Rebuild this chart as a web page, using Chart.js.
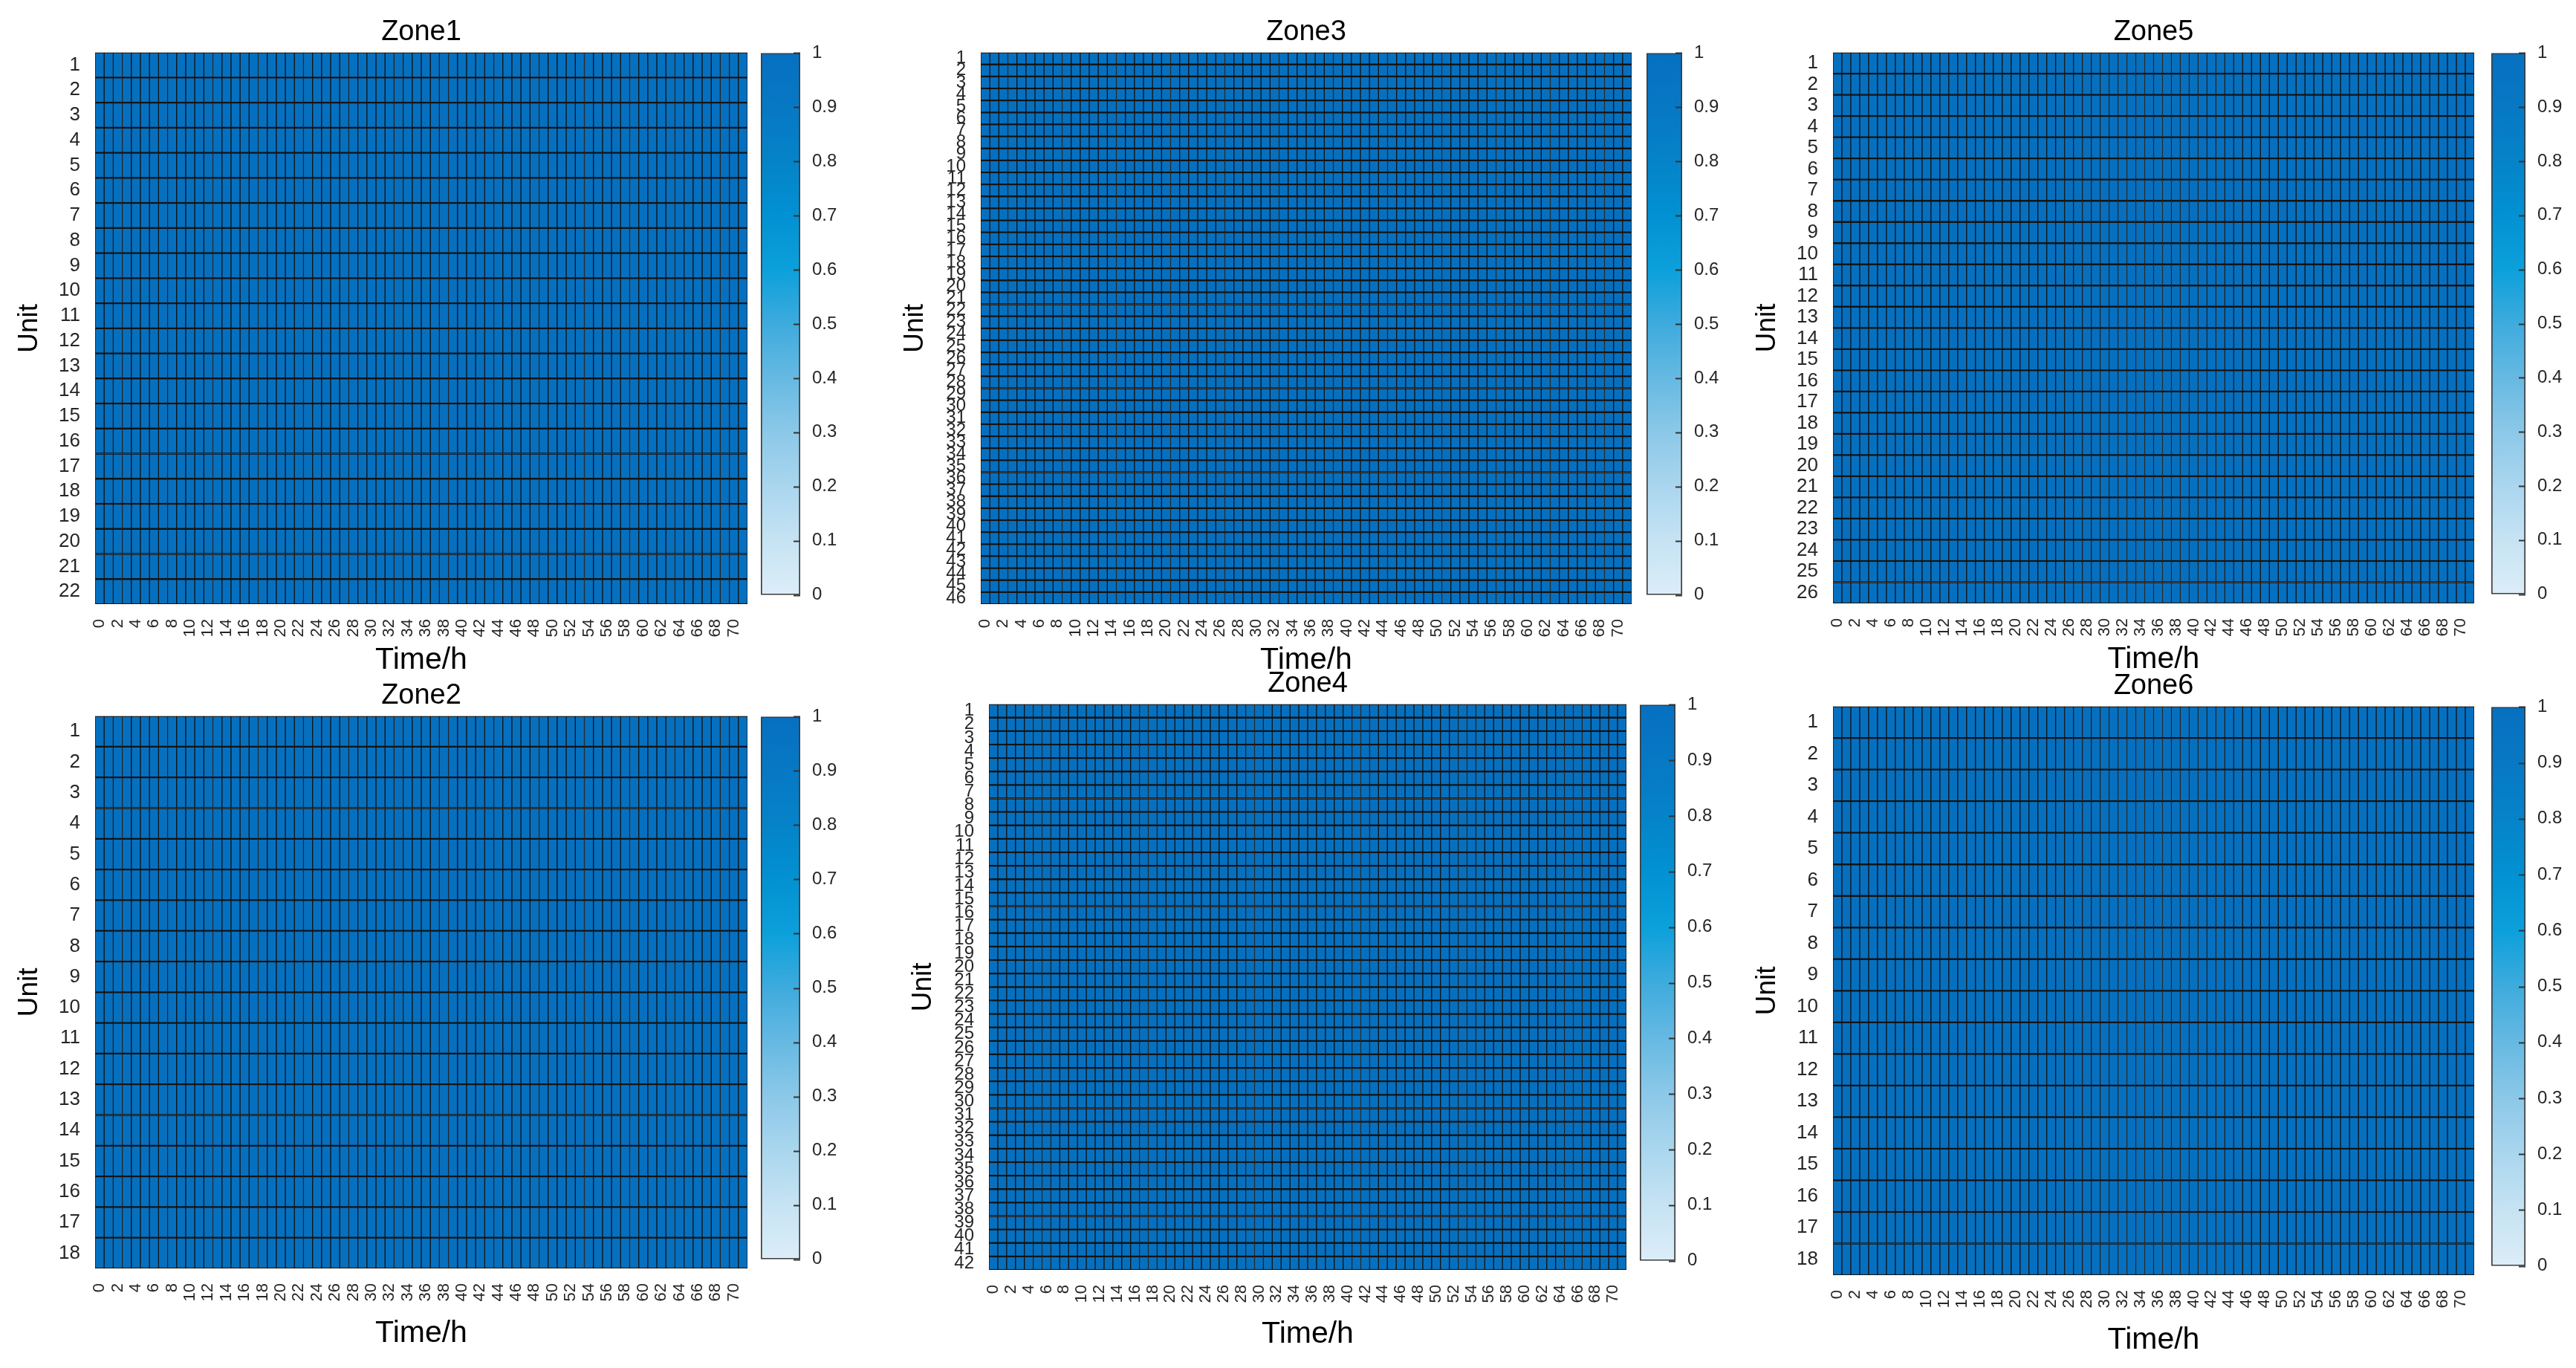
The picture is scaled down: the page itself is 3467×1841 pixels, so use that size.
<!DOCTYPE html>
<html>
<head>
<meta charset="utf-8">
<title>Unit status by zone</title>
<script src="https://cdn.jsdelivr.net/npm/chart.js@4.4.1/dist/chart.umd.min.js"></script>
<style>
  html, body { margin: 0; padding: 0; background: #fff; }
  body { width: 3467px; height: 1841px; position: relative; overflow: hidden; }
  canvas { position: absolute; }
</style>
</head>
<body>
<script>
// one column per hour
const hours = [0, 1, 2, 3, 4, 5, 6, 7, 8, 9, 10, 11, 12, 13, 14, 15, 16, 17, 18, 19, 20, 21, 22, 23,
  24, 25, 26, 27, 28, 29, 30, 31, 32, 33, 34, 35, 36, 37, 38, 39, 40, 41, 42, 43, 44, 45, 46, 47,
  48, 49, 50, 51, 52, 53, 54, 55, 56, 57, 58, 59, 60, 61, 62, 63, 64, 65, 66, 67, 68, 69, 70, 71];
const hourTickLabels = ['0', '2', '4', '6', '8', '10', '12', '14', '16', '18', '20', '22', '24', '26',
  '28', '30', '32', '34', '36', '38', '40', '42', '44', '46', '48', '50', '52', '54', '56', '58', '60',
  '62', '64', '66', '68', '70'];

const zoneNames = ['Zone1', 'Zone2', 'Zone3', 'Zone4', 'Zone5', 'Zone6'];
const unitCounts = [22, 18, 46, 42, 26, 18];

// on/off status of a unit in each hour -- every unit of every zone is on (1) all 72 h
const unitStatus = [1, 1, 1, 1, 1, 1, 1, 1, 1, 1, 1, 1, 1, 1, 1, 1, 1, 1, 1, 1, 1, 1, 1, 1,
  1, 1, 1, 1, 1, 1, 1, 1, 1, 1, 1, 1, 1, 1, 1, 1, 1, 1, 1, 1, 1, 1, 1, 1,
  1, 1, 1, 1, 1, 1, 1, 1, 1, 1, 1, 1, 1, 1, 1, 1, 1, 1, 1, 1, 1, 1, 1, 1];

const colorbarTicks = [0, 0.1, 0.2, 0.3, 0.4, 0.5, 0.6, 0.7, 0.8, 0.9, 1];

// colormap (light blue -> dark blue)
const cmapStops = [
  [0.0, [220, 237, 248]], [0.1, [198, 227, 243]], [0.2, [170, 214, 238]],
  [0.3, [140, 200, 232]], [0.4, [102, 185, 226]], [0.5, [62, 171, 221]],
  [0.6, [12, 160, 219]], [0.7, [2, 145, 210]], [0.8, [5, 131, 201]],
  [0.9, [7, 120, 196]], [1.0, [6, 112, 192]]
];

// pixel boxes: heatmap [left, top, right, bottom], colorbar [left, right], x axis band height
const boxes = {
  Zone1: { plot: [128, 71, 1006, 813], bar: [1024, 1077], xh: 100 },
  Zone3: { plot: [1320, 71, 2196, 813], bar: [2216, 2264], xh: 100 },
  Zone5: { plot: [2467, 71, 3330, 812], bar: [3353, 3399], xh: 100 },
  Zone2: { plot: [128, 964, 1006, 1707], bar: [1024, 1077], xh: 112 },
  Zone4: { plot: [1331, 948, 2189, 1709], bar: [2207, 2255], xh: 111 },
  Zone6: { plot: [2467, 951, 3330, 1716], bar: [3353, 3399], xh: 112 }
};

const FONT = '"Liberation Sans", Arial, Helvetica, sans-serif';
const TICK_COLOR = '#262626';

function colormap(v) {
  for (let i = 1; i < cmapStops.length; i++) {
    const [v1, c1] = cmapStops[i];
    const [v0, c0] = cmapStops[i - 1];
    if (v <= v1) {
      const f = (v - v0) / (v1 - v0);
      const c = c0.map((x, k) => Math.round(x + (c1[k] - x) * f));
      return 'rgb(' + c.join(',') + ')';
    }
  }
  return 'rgb(' + cmapStops[cmapStops.length - 1][1].join(',') + ')';
}

// move canvas so the chart area lands on the wanted box
function pinChart(chart, canvas, left, top) {
  const a = chart.chartArea;
  canvas.style.left = (left - a.left) + 'px';
  canvas.style.top = (top - a.top) + 'px';
}

function makeHeatmap(name, count) {
  const [l, t, r, b] = boxes[name].plot;
  const units = [];
  for (let u = 1; u <= count; u++) units.push(u);

  // padR leaves room for the rotated hour labels so the plot keeps its width
  const yAxisW = 110, xAxisH = boxes[name].xh, padR = 50;
  const titleH = 38 * 1.2 + 4;
  const canvas = document.createElement('canvas');
  canvas.width = yAxisW + (r - l) + padR;
  canvas.height = Math.ceil(titleH + (b - t) + xAxisH);
  document.body.appendChild(canvas);

  const chart = new Chart(canvas, {
    type: 'bar',
    data: {
      labels: hours.map(String),
      datasets: units.map(u => ({
        label: 'Unit ' + u,
        data: unitStatus.map(() => [u - 0.5, u + 0.5]),
        backgroundColor: unitStatus.map(colormap)
      }))
    },
    options: {
      responsive: false,
      animation: false,
      events: [],
      layout: { padding: { right: padR } },
      datasets: {
        bar: {
          grouped: false,
          barPercentage: 1,
          categoryPercentage: 1,
          borderWidth: { top: 1.5, bottom: 1.5, left: 1, right: 1 },
          borderColor: '#141414',
          borderSkipped: false
        }
      },
      plugins: {
        legend: { display: false },
        tooltip: { enabled: false },
        title: {
          display: true,
          text: name,
          fullSize: false,
          color: '#000',
          font: { family: FONT, size: 38, weight: 'normal' },
          padding: { top: 0, bottom: 4 }
        }
      },
      scales: {
        x: {
          type: 'category',
          grid: { display: false },
          border: { display: false },
          ticks: {
            autoSkip: false,
            minRotation: 90,
            maxRotation: 90,
            padding: 12,
            color: TICK_COLOR,
            font: { family: FONT, size: 22 },
            callback: (v, i) => hourTickLabels.includes(String(hours[i])) ? String(hours[i]) : ''
          },
          title: {
            display: true,
            text: 'Time/h',
            color: '#000',
            font: { family: FONT, size: 41 },
            padding: 0
          },
          afterFit: s => { s.height = xAxisH; }
        },
        y: {
          type: 'linear',
          reverse: true,
          min: 0.5,
          max: count + 0.5,
          grid: { display: false },
          border: { display: false },
          afterBuildTicks: s => { s.ticks = units.map(v => ({ value: v })); },
          ticks: {
            autoSkip: false,
            padding: 12,
            color: TICK_COLOR,
            font: { family: FONT, size: count > 30 ? 24 : 26 },
            callback: v => String(v)
          },
          title: {
            display: true,
            text: 'Unit',
            color: '#000',
            font: { family: FONT, size: 37 },
            padding: 0
          },
          afterFit: s => { s.width = yAxisW; }
        }
      }
    }
  });
  pinChart(chart, canvas, l, t);
}

// tick marks drawn inside the colorbar, on its right edge
const insideTicks = {
  id: 'insideTicks',
  afterDatasetsDraw(chart) {
    const { ctx, chartArea, scales } = chart;
    ctx.save();
    ctx.strokeStyle = '#333';
    ctx.lineWidth = 2;
    scales.y.ticks.forEach(tk => {
      const y = Math.round(scales.y.getPixelForValue(tk.value)) + 0.5;
      ctx.beginPath();
      ctx.moveTo(chartArea.right - 9, y);
      ctx.lineTo(chartArea.right, y);
      ctx.stroke();
    });
    ctx.restore();
  }
};

function makeColorbar(name) {
  const [, t, , b] = boxes[name].plot;
  const [cl, cr] = boxes[name].bar;
  const axisW = 60, pad = 16;
  const canvas = document.createElement('canvas');
  canvas.width = (cr - cl) + axisW;
  canvas.height = (b - t) + 2 * pad;
  document.body.appendChild(canvas);

  const chart = new Chart(canvas, {
    type: 'bar',
    data: {
      labels: ['colorbar'],
      datasets: [{
        data: [[0, 1]],
        backgroundColor: ctx => {
          const area = ctx.chart.chartArea;
          if (!area) return colormap(0);
          const g = ctx.chart.ctx.createLinearGradient(0, area.bottom, 0, area.top);
          cmapStops.forEach(([v]) => g.addColorStop(v, colormap(v)));
          return g;
        },
        borderColor: '#3c3c3c',
        borderWidth: 2,
        borderSkipped: false,
        barPercentage: 1,
        categoryPercentage: 1
      }]
    },
    options: {
      responsive: false,
      animation: false,
      events: [],
      layout: { padding: { top: pad, bottom: pad, left: 0, right: 0 } },
      plugins: { legend: { display: false }, tooltip: { enabled: false } },
      scales: {
        x: { display: false },
        y: {
          position: 'right',
          min: 0,
          max: 1,
          grid: { display: false },
          border: { display: false },
          afterBuildTicks: s => { s.ticks = colorbarTicks.map(v => ({ value: v })); },
          ticks: {
            padding: 8,
            color: TICK_COLOR,
            font: { family: FONT, size: 24 },
            callback: v => String(Math.round(v * 10) / 10)
          },
          afterFit: s => { s.width = axisW; }
        }
      }
    },
    plugins: [insideTicks]
  });
  pinChart(chart, canvas, cl, t);
}

zoneNames.forEach((name, i) => {
  makeHeatmap(name, unitCounts[i]);
  makeColorbar(name);
});
</script>
</body>
</html>
